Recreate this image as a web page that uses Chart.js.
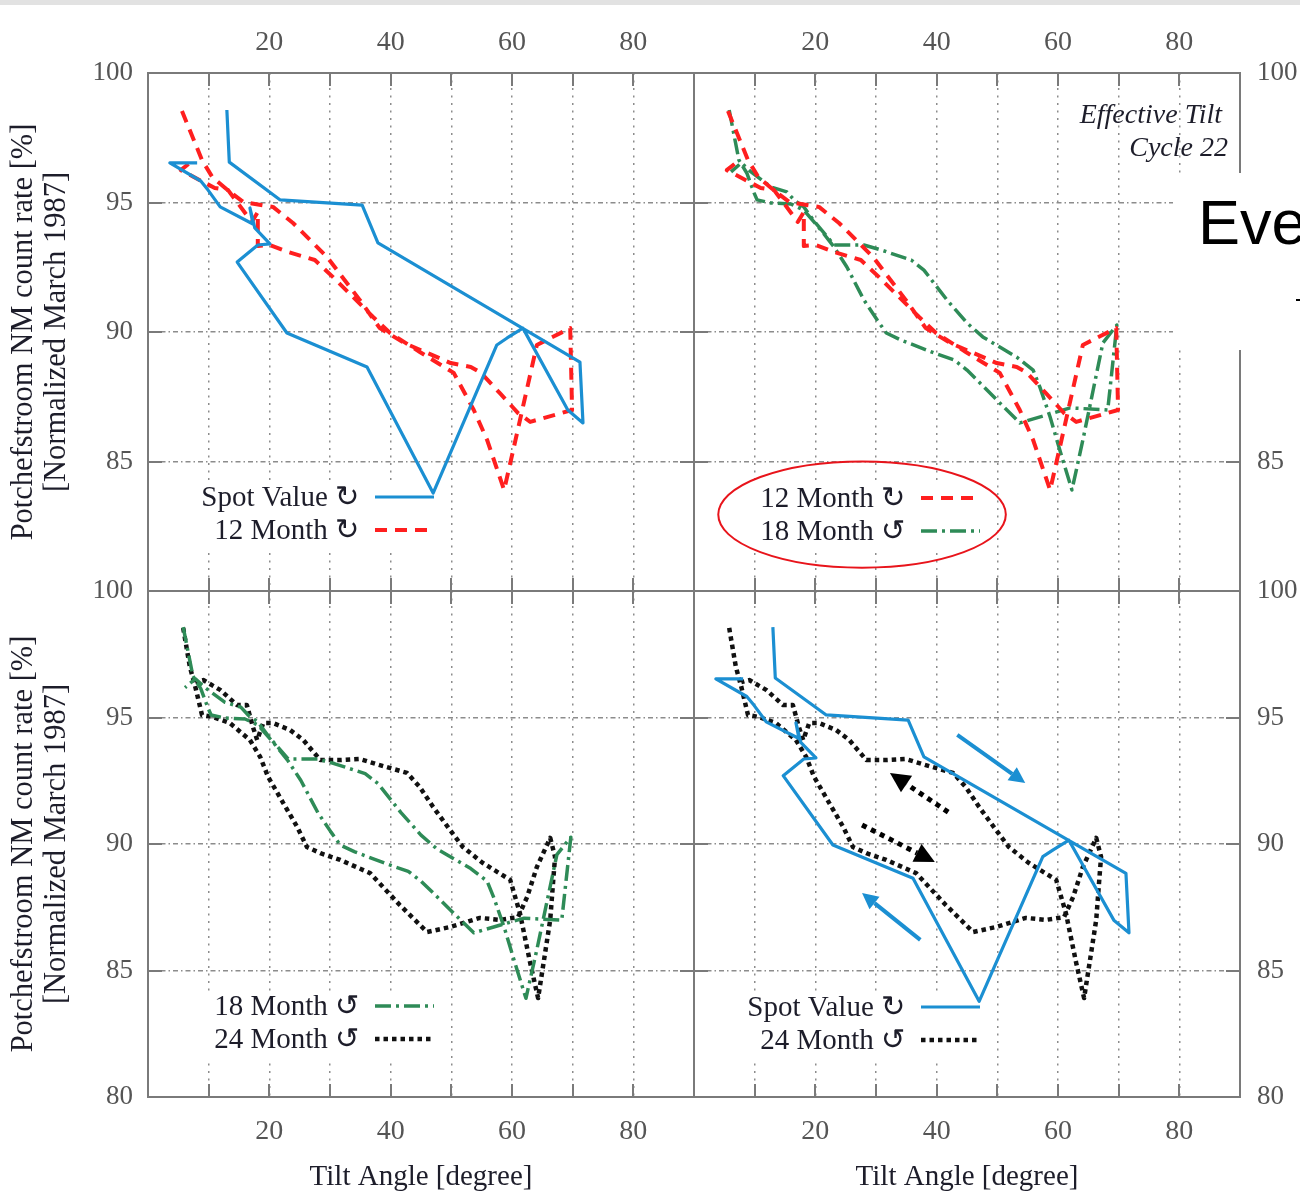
<!DOCTYPE html>
<html>
<head>
<meta charset="utf-8">
<script src="https://cdn.jsdelivr.net/npm/chart.js@4.4.1/dist/chart.umd.min.js"></script>
<style>
  body { margin: 0; background: #fff; width: 1300px; height: 1193px; overflow: hidden; position: relative; }
  canvas { position: absolute; left: 0; top: 0; }
  #topbar { position: absolute; left: 0; top: 0; width: 1300px; height: 5px; background: #e2e2e2; }
  #cover { position: absolute; left: 1173px; top: 173px; width: 127px; height: 177px; background: #fff; overflow: hidden; z-index: 5; }
  #cover span { position: absolute; left: 25px; top: 18px; font: 63px/63px "Liberation Sans", Arial, sans-serif; color: #000; white-space: nowrap; }
  #cover i { position: absolute; left: 123px; top: 126px; width: 4px; height: 2px; background: #000; }
</style>
</head>
<body>
<div id="topbar"></div>
<canvas id="tl" width="1300" height="1193"></canvas>
<canvas id="tr" width="1300" height="1193"></canvas>
<canvas id="bl" width="1300" height="1193"></canvas>
<canvas id="br" width="1300" height="1193"></canvas>
<div id="cover"><span>Eve</span><i></i></div>
<script>
// tilt angle (deg) and normalised count rate (%) for each smoothing
var spotTilt = [13.0, 13.4, 21.8, 35.3, 37.9, 71.2, 71.7, 69.2, 61.8, 59.2, 57.5, 47.0, 36.1, 22.9,
  14.7, 18.1, 20.1, 17.6, 16.8, 17.3, 11.9, 9.9, 8.7, 3.6, 8.1];
var spotRate = [98.57, 96.56, 95.10, 94.90, 93.44, 88.84, 86.49, 86.99, 90.15, 89.77, 89.50, 83.78, 88.65, 89.96,
  92.70, 93.36, 93.40, 94.02, 94.79, 94.17, 94.83, 95.48, 95.83, 96.53, 96.53];

var m12Tilt = [5.6, 8.9, 10.6, 13.5, 15.7, 20.6, 23.9, 29.5, 34.9, 38.2, 42.2, 49.9, 53.2, 54.9, 58.0,
  61.0, 63.0, 69.9, 69.6, 64.1, 60.2, 58.7, 55.9, 53.7, 50.4, 44.8, 39.9, 37.1, 33.8, 30.5,
  27.5, 23.1, 20.1, 18.1, 18.1, 17.1, 13.2, 11.0, 5.4, 6.9];
var m12Rate = [98.53, 96.64, 95.98, 95.41, 95.02, 94.83, 94.21, 92.90, 91.24, 90.15, 89.58, 88.80, 88.65, 88.42, 87.64,
  86.87, 86.53, 86.99, 90.15, 89.50, 85.44, 83.90, 85.83, 86.99, 88.42, 89.23, 89.96, 90.58, 91.35, 92.12,
  92.78, 93.09, 93.36, 93.32, 94.63, 94.25, 95.48, 95.56, 96.25, 96.53];

var m18Tilt = [5.8, 7.4, 8.7, 9.9, 10.4, 12.7, 16.0, 18.1, 20.9, 23.1, 25.2, 28.0, 30.2, 31.7, 34.1,
  39.6, 42.9, 45.0, 47.8, 50.4, 53.7, 62.0, 68.2, 69.7, 67.4, 65.8, 64.1, 62.3, 60.3, 58.7,
  57.0, 55.9, 53.2, 50.4, 47.6, 45.0, 41.7, 37.9, 35.8, 30.8, 28.0, 23.1, 19.9, 18.1, 16.5,
  15.3, 12.7, 9.4, 7.8, 6.1];
var m18Rate = [98.57, 96.64, 96.14, 95.37, 95.10, 94.98, 94.94, 94.71, 93.94, 93.28, 92.51, 91.24, 90.46, 89.96, 89.69,
  89.19, 88.92, 88.53, 87.88, 87.26, 86.49, 87.07, 86.99, 90.27, 89.58, 87.76, 85.83, 83.90, 85.44, 86.72,
  87.88, 88.53, 89.03, 89.42, 89.81, 90.35, 91.24, 92.39, 92.78, 93.17, 93.36, 93.36, 94.25, 94.83, 95.10,
  95.41, 95.60, 96.18, 96.53, 96.18];

var m24Tilt = [5.8, 6.9, 7.8, 8.9, 10.7, 13.5, 16.8, 18.5, 19.8, 22.3, 24.6, 26.2, 28.4, 31.7, 36.6,
  41.5, 46.0, 49.8, 54.7, 58.0, 61.0, 62.5, 64.1, 66.3, 67.1, 66.8, 66.3, 65.1, 64.3, 63.0,
  61.3, 59.7, 55.2, 51.9, 49.8, 47.0, 44.8, 42.7, 38.2, 34.9, 31.7, 28.4, 25.6, 23.4, 20.6,
  19.0, 18.0, 17.3, 16.3, 14.7, 11.9, 9.1, 7.8];
var m24Rate = [98.54, 97.00, 96.21, 95.10, 95.02, 94.78, 94.11, 93.44, 92.65, 91.62, 90.67, 89.88, 89.64, 89.37, 88.85,
  87.59, 86.52, 86.72, 87.08, 87.00, 87.11, 87.91, 89.09, 90.24, 89.49, 88.58, 87.00, 85.14, 83.91, 85.30,
  87.27, 88.58, 89.25, 89.88, 90.55, 91.46, 92.25, 92.81, 93.12, 93.36, 93.32, 93.32, 94.11, 94.51, 94.78,
  94.78, 94.11, 94.62, 95.49, 95.49, 96.09, 96.48, 96.40];

var xTickLabels = [20, 40, 60, 80];
var yTickLabels = [80, 85, 90, 95, 100];

// direction arrows drawn on the lower right panel, tail -> head, in data units
var arrowTailX = [43.4, 37.3, 41.9, 27.7];
var arrowTailY = [94.31, 86.21, 91.26, 90.75];
var arrowHeadX = [54.6, 27.7, 32.3, 39.7];
var arrowHeadY = [92.41, 88.06, 92.81, 89.29];

var SERIF = '"Liberation Serif", "Times New Roman", serif';
var INK = '#1d1d2a';
var W = 1300, H = 1193;

var series = {
  spot: { label: 'Spot Value \u21BB', tilt: spotTilt, rate: spotRate, color: '#1b8fd2', width: 3.2, dash: [] },
  m12:  { label: '12 Month \u21BB', tilt: m12Tilt, rate: m12Rate, color: '#ff1f1f', width: 4, dash: [12, 8] },
  m18:  { label: '18 Month \u21BA', tilt: m18Tilt, rate: m18Rate, color: '#2e8b57', width: 3.5, dash: [16, 5, 3, 5] },
  m24:  { label: '24 Month \u21BA', tilt: m24Tilt, rate: m24Rate, color: '#111111', width: 4.5, dash: [4.5, 4] }
};

function points(s) {
  var out = [];
  for (var i = 0; i < s.tilt.length; i++) out.push({ x: s.tilt[i], y: s.rate[i] });
  return out;
}

// box frame with gnuplot-like inward ticks on all four sides
var framePlugin = {
  id: 'frame',
  beforeDatasetsDraw: function(chart) {
    var ctx = chart.ctx, a = chart.chartArea, x = chart.scales.x, y = chart.scales.y;
    ctx.save();
    ctx.strokeStyle = '#7a7a7a';
    ctx.lineWidth = 2;
    ctx.strokeRect(a.left, a.top, a.right - a.left, a.bottom - a.top);
    ctx.beginPath();
    x.ticks.forEach(function(t) {
      if (t.value <= x.min || t.value >= x.max) return;
      var px = Math.round(x.getPixelForValue(t.value));
      ctx.moveTo(px, a.top); ctx.lineTo(px, a.top + 13);
      ctx.moveTo(px, a.bottom); ctx.lineTo(px, a.bottom - 13);
    });
    y.ticks.forEach(function(t) {
      if (t.value <= y.min || t.value >= y.max) return;
      var py = Math.round(y.getPixelForValue(t.value));
      ctx.moveTo(a.left, py); ctx.lineTo(a.left + 14, py);
      ctx.moveTo(a.right, py); ctx.lineTo(a.right - 14, py);
    });
    ctx.stroke();
    ctx.restore();
  }
};

// key with the text on the left and the line sample on the right
var keyPlugin = {
  id: 'key',
  beforeDatasetsDraw: function(chart, args, o) {
    var a = chart.chartArea, ctx = chart.ctx;
    ctx.save();
    ctx.fillStyle = '#fff';
    ctx.fillRect(a.left + 42, a.top + o.top - 14, 252, 66);
    ctx.restore();
  },
  afterDatasetsDraw: function(chart, args, o) {
    var a = chart.chartArea, ctx = chart.ctx;
    ctx.save();
    ctx.font = '29px ' + SERIF;
    ctx.textAlign = 'right';
    ctx.textBaseline = 'middle';
    chart.data.datasets.forEach(function(ds, i) {
      var yy = a.top + o.top + i * 33;
      ctx.fillStyle = INK;
      ctx.fillText(ds.label, a.left + 211, yy + 1);
      ctx.strokeStyle = ds.borderColor;
      ctx.lineWidth = ds.borderWidth;
      ctx.setLineDash(ds.borderDash);
      ctx.beginPath();
      ctx.moveTo(a.left + 227, yy);
      ctx.lineTo(a.left + 286, yy);
      ctx.stroke();
    });
    ctx.restore();
  }
};

function drawArrow(ctx, x1, y1, x2, y2, color, width, dash, head) {
  var ang = Math.atan2(y2 - y1, x2 - x1);
  var hx = x2 - Math.cos(ang) * head, hy = y2 - Math.sin(ang) * head;
  ctx.save();
  ctx.strokeStyle = color;
  ctx.fillStyle = color;
  ctx.lineWidth = width;
  ctx.setLineDash(dash);
  ctx.beginPath();
  ctx.moveTo(x1, y1);
  ctx.lineTo(hx, hy);
  ctx.stroke();
  ctx.setLineDash([]);
  var half = head * 0.5;
  ctx.beginPath();
  ctx.moveTo(x2, y2);
  ctx.lineTo(hx + Math.sin(ang) * half, hy - Math.cos(ang) * half);
  ctx.lineTo(hx - Math.sin(ang) * half, hy + Math.cos(ang) * half);
  ctx.closePath();
  ctx.fill();
  ctx.restore();
}

// cycle note, highlight ring and direction arrows
var extrasPlugin = {
  id: 'extras',
  afterDraw: function(chart, args, o) {
    var ctx = chart.ctx, a = chart.chartArea, x = chart.scales.x, y = chart.scales.y;
    if (o.note) {
      ctx.save();
      ctx.font = 'italic 28px ' + SERIF;
      ctx.fillStyle = INK;
      ctx.textAlign = 'right';
      ctx.textBaseline = 'middle';
      ctx.fillText('Effective Tilt', a.right - 18, a.top + 43);
      ctx.fillText('Cycle 22', a.right - 12, a.top + 76);
      ctx.restore();
    }
    if (o.ring) {
      var x0 = x.getPixelForValue(4.0), x1 = x.getPixelForValue(51.4);
      var y0 = y.getPixelForValue(85.0), y1 = y.getPixelForValue(80.9);
      ctx.save();
      ctx.strokeStyle = '#e8141b';
      ctx.lineWidth = 2;
      ctx.beginPath();
      ctx.ellipse((x0 + x1) / 2, (y0 + y1) / 2, (x1 - x0) / 2, (y1 - y0) / 2, 0, 0, Math.PI * 2);
      ctx.stroke();
      ctx.restore();
    }
    if (o.arrows) {
      for (var i = 0; i < arrowTailX.length; i++) {
        var blue = i < 2;
        drawArrow(ctx,
          x.getPixelForValue(arrowTailX[i]), y.getPixelForValue(arrowTailY[i]),
          x.getPixelForValue(arrowHeadX[i]), y.getPixelForValue(arrowHeadY[i]),
          blue ? '#1b8fd2' : '#000', blue ? 4 : 5, blue ? [] : [5, 5], blue ? 16 : 20);
      }
    }
  }
};

var panels = [
  { id: 'tl', keys: ['spot', 'm12'], l: 148, t: 73, r: 694, b: 591, xPos: 'top', yPos: 'left', keyTop: 424 },
  { id: 'tr', keys: ['m12', 'm18'], l: 694, t: 73, r: 1240, b: 591, xPos: 'top', yPos: 'right', keyTop: 425, note: true, ring: true },
  { id: 'bl', keys: ['m18', 'm24'], l: 148, t: 591, r: 694, b: 1097, xPos: 'bottom', yPos: 'left', keyTop: 415 },
  { id: 'br', keys: ['spot', 'm24'], l: 694, t: 591, r: 1240, b: 1097, xPos: 'bottom', yPos: 'right', keyTop: 416, arrows: true }
];

panels.forEach(function(p) {
  var topRow = p.xPos === 'top';
  new Chart(document.getElementById(p.id), {
    type: 'scatter',
    data: {
      datasets: p.keys.map(function(k) {
        var s = series[k];
        return {
          label: s.label, data: points(s), showLine: true, pointRadius: 0, pointHoverRadius: 0,
          borderColor: s.color, borderWidth: s.width, borderDash: s.dash, borderJoinStyle: 'round',
          fill: false, tension: 0
        };
      })
    },
    options: {
      responsive: false,
      animation: false,
      devicePixelRatio: 1,
      events: [],
      layout: {
        padding: {
          left: p.yPos === 'left' ? 0 : p.l,
          right: p.yPos === 'right' ? 0 : W - p.r,
          top: topRow ? 0 : p.t,
          bottom: topRow ? H - p.b : 0
        }
      },
      plugins: {
        legend: { display: false },
        tooltip: { enabled: false },
        key: { top: p.keyTop },
        extras: { note: !!p.note, ring: !!p.ring, arrows: !!p.arrows }
      },
      scales: {
        x: {
          type: 'linear', position: p.xPos, min: 0, max: 90,
          afterFit: function(s) { s.height = topRow ? 73 : 96; },
          ticks: {
            stepSize: 10, autoSkip: false, maxRotation: 0, padding: topRow ? 14 : 18, color: '#555',
            font: { family: SERIF, size: 28 },
            callback: function(v) { return xTickLabels.indexOf(v) >= 0 ? String(v) : ''; }
          },
          grid: {
            drawTicks: false, lineWidth: 1.5,
            color: function(c) { return (c.tick && (c.tick.value <= 0 || c.tick.value >= 90)) ? 'rgba(0,0,0,0)' : '#8c8c8c'; }
          },
          border: { display: false, dash: [2, 5.5] },
          title: {
            display: !topRow, text: 'Tilt Angle [degree]', color: INK,
            font: { family: SERIF, size: 29, lineHeight: 1.1 }, padding: { top: 0, bottom: 0 }
          }
        },
        y: {
          type: 'linear', position: p.yPos, min: 80, max: 100,
          afterFit: function(s) { s.width = p.yPos === 'left' ? 148 : 60; },
          ticks: {
            stepSize: 5, padding: p.yPos === 'left' ? 15 : 17, color: '#555',
            font: { family: SERIF, size: 27 },
            callback: function(v) {
              if (topRow && v === 80) return '';
              return yTickLabels.indexOf(v) >= 0 ? String(v) : '';
            }
          },
          grid: {
            drawTicks: false, lineWidth: 1.5,
            color: function(c) { return (c.tick && (c.tick.value <= 80 || c.tick.value >= 100)) ? 'rgba(0,0,0,0)' : '#8c8c8c'; }
          },
          border: { display: false, dash: [5, 3, 1.5, 3] },
          title: {
            display: p.yPos === 'left',
            text: ['Potchefstroom NM count rate [%]', '[Normalized March 1987]'],
            color: INK, font: { family: SERIF, size: 30.5, lineHeight: 1.08 }, padding: { top: 8, bottom: 0 }
          }
        }
      }
    },
    plugins: [framePlugin, keyPlugin, extrasPlugin]
  });
});
</script>
</body>
</html>
